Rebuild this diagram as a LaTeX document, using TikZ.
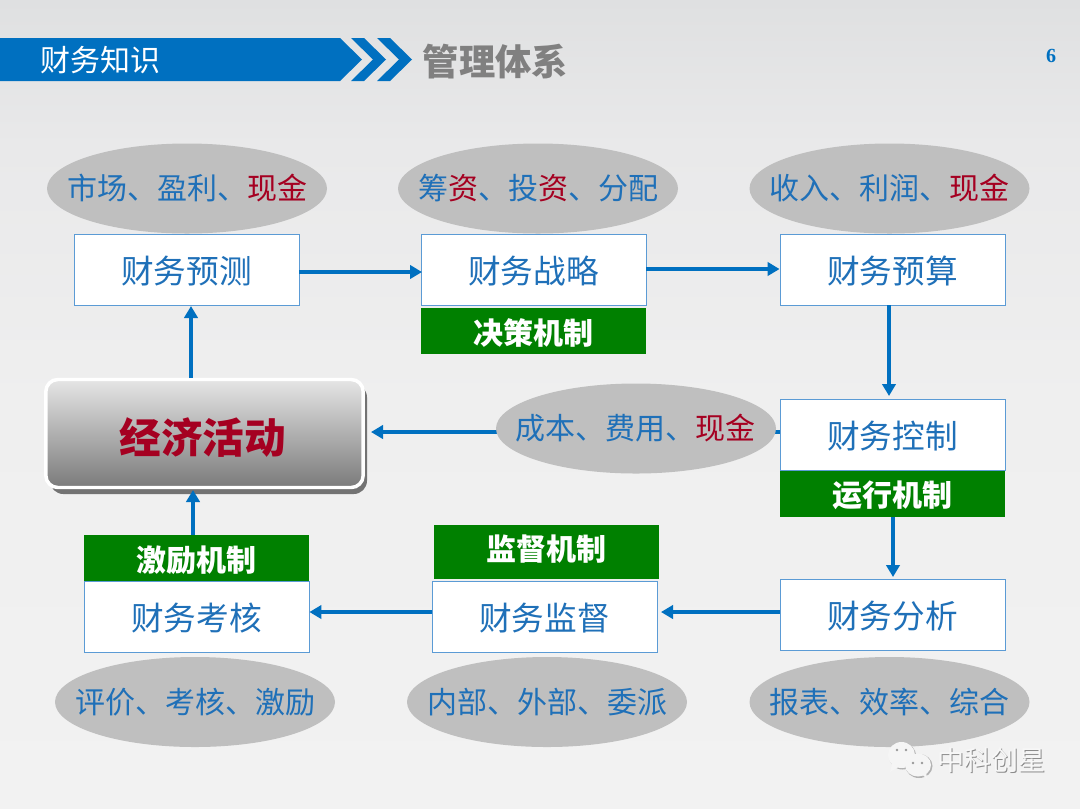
\documentclass[tikz,border=0pt]{standalone}
\usepackage{fontspec}
\usetikzlibrary{arrows.meta,shapes.geometric}
\setmainfont{Liberation Sans}
\newfontfamily\cjk{Noto Sans CJK SC}
\newfontfamily\serifb{Liberation Serif}
\definecolor{bluemain}{HTML}{0070C0}
\definecolor{txtblue}{HTML}{1F70B8}
\definecolor{redd}{HTML}{A50021}
\definecolor{oval}{HTML}{BFBFBF}
\definecolor{grn}{HTML}{008000}
\definecolor{boxln}{HTML}{5B9BD5}
\definecolor{bgA}{HTML}{F2F2F2}
\definecolor{bgB}{HTML}{EFEFEF}
\definecolor{bgC}{HTML}{E9E9EA}
\definecolor{bgD}{HTML}{DFE0E1}
\newcommand{\rd}[1]{\textcolor{redd}{#1}}
\newcommand{\fs}[1]{\fontsize{#1}{#1}\selectfont}
\newcommand{\sh}[2]{\raisebox{#1}[\height][\depth]{#2}}
\pgfdeclareverticalshading{bgshade}{100bp}{
  color(0bp)=(bgA);
  color(25bp)=(bgA);
  color(50bp)=(bgB);
  color(66bp)=(bgC);
  color(75bp)=(bgD);
  color(100bp)=(bgD)}
\tikzset{
  x=0.75pt,y=-0.75pt,
  fbox/.style={draw=boxln,line width=0.6pt,fill=white,minimum width=168.8pt,minimum height=53.4pt,inner sep=0pt,text=txtblue,font=\cjk\fs{24.5}},
  ell/.style={ellipse,fill=oval,minimum width=210pt,minimum height=67.5pt,inner sep=0pt},
  elltxt/.style={inner sep=0pt,text=txtblue,font=\cjk\fs{22.5}},
  tag/.style={fill=grn,minimum width=169pt,inner sep=0pt,text=white,font=\cjk\bfseries\fs{22.5}},
  flow/.style={draw=bluemain,line width=3pt,-{Triangle[length=9pt,width=10pt]}},
  wmtext/.style={inner sep=0pt,font=\cjk\fs{20.3}}
}
\begin{document}
\begin{tikzpicture}
\useasboundingbox (0,0) rectangle (1080,808);
\shade[shading=bgshade] (0,0) rectangle (1080,808);
% header
\fill[bluemain] (0,38) -- (340,38) -- (362,59.5) -- (340,81) -- (0,81) -- cycle;
\fill[bluemain] (351,38) -- (364,38) -- (386,59.5) -- (364,81) -- (351,81) -- (373,59.5) -- cycle;
\fill[bluemain] (377,38) -- (390,38) -- (412,59.5) -- (390,81) -- (377,81) -- (399,59.5) -- cycle;
\node[text=white,font=\cjk\fs{22.5},inner sep=0pt] (t1) at (100,60.5) {财务知识};
\node[text=black!50,font=\cjk\bfseries\fs{27.2},inner sep=0pt] (t2) at (495.5,61.5) {管理体系};
\node[text=bluemain,font=\serifb\bfseries\fs{15},inner sep=0pt] (pg) at (1051,56) {6};
% the line that runs under the oval
\coordinate (c4s) at (780,432);
\coordinate (c4e) at (371,432);
\draw[flow] (c4s) -- (c4e);
% ellipses
\node[ell] (e1) at (187,188.5) {};
\node[ell] (e2) at (538,188.5) {};
\node[ell] (e3) at (889.5,188.5) {};
\node[ell] (e4) at (636,428.5) {};
\node[ell] (e5) at (195,702) {};
\node[ell] (e6) at (547,702) {};
\node[ell] (e7) at (889.5,702) {};
\node[elltxt] (te1) at (e1) {市场、盈利、\rd{现金}};
\node[elltxt] (te2) at (e2) {筹\rd{资}、投\rd{资}、分配};
\node[elltxt] (te3) at (e3) {收入、利润、\rd{现金}};
\node[elltxt] (te4) at (635.5,428.5) {成本、费用、\rd{现金}};
\node[elltxt] (te5) at (e5) {评价、考核、激励};
\node[elltxt] (te6) at (e6) {内部、外部、委派};
\node[elltxt] (te7) at (e7) {报表、效率、综合};
% boxes
\node[fbox] (b1) at (186.5,269.5) {\sh{-1.5pt}{财务预测}};
\node[fbox] (b2) at (533.5,269.5) {\sh{-0.8pt}{财务战略}};
\node[fbox] (b3) at (892.5,269.5) {\sh{-0.8pt}{财务预算}};
\node[fbox] (b4) at (892.5,435) {\sh{-0.8pt}{财务控制}};
\node[fbox] (b5) at (892.5,615) {\sh{-0.8pt}{财务分析}};
\node[fbox] (b6) at (544.5,616.5) {\sh{-1.5pt}{财务监督}};
\node[fbox] (b7) at (196.5,616.5) {\sh{-0.8pt}{财务考核}};
% tags
\node[tag,minimum height=34.5pt] (g1) at (533.5,331) {\sh{-1.5pt}{决策机制}};
\node[tag,minimum height=34.5pt] (g2) at (892.5,494) {\sh{-1pt}{运行机制}};
\node[tag,minimum height=40.5pt] (g3) at (546.5,552) {\sh{2pt}{监督机制}};
\node[tag,minimum height=34.5pt] (g4) at (196.5,558) {\sh{-1.5pt}{激励机制}};
% main
\fill[black!55,rounded corners=10pt] (50,384) rectangle (367,494);
\node[draw=white,line width=2.6pt,rounded corners=9pt,minimum width=238pt,minimum height=81pt,inner sep=0pt,top color=black!10,bottom color=black!52,text=redd,font=\cjk\bfseries\fs{31.2}] (m) at (204.5,433.5) {\kern-2.5pt\sh{-3pt}{经济活动}};
% connectors
\draw[flow] (b1.east |- 0,272) -- (422,272);
\draw[flow] (b2.east |- 0,269) -- (b3.west |- 0,269);
\draw[flow] (889,305) -- (889,396);
\draw[flow] (893,517) -- (893,577);
\draw[flow] (b5.west |- 0,612) -- (661,612);
\draw[flow] (b6.west |- 0,612) -- (b7.east |- 0,612);
\draw[flow] (193,535) -- (193,490);
\draw[flow] (191,378) -- (191,306);
% watermark
\fill[black!30] (902.5,756) ellipse (13.5 and 13.5);
\fill[white!96!black] (901.5,755) ellipse (13.5 and 13);
\fill[white!96!black] (892,764) -- (890,772) -- (900,766) -- cycle;
\fill[black!30] (919,766) ellipse (13.5 and 12);
\fill[white!96!black] (918,765) ellipse (13 and 11.5);
\fill[white!96!black] (922,774) -- (927,779) -- (926,771) -- cycle;
\fill[black!40] (897,750) circle (1.3) (906,750) circle (1.3) (913,763) circle (1.3) (922,763) circle (1.3);
\node[wmtext,text=black!45] (ws) at (992.5,761.5) {中科创星};
\node[wmtext,text=white!97!black] (wm) at (991.5,760.5) {中科创星};
\end{tikzpicture}
\end{document}
